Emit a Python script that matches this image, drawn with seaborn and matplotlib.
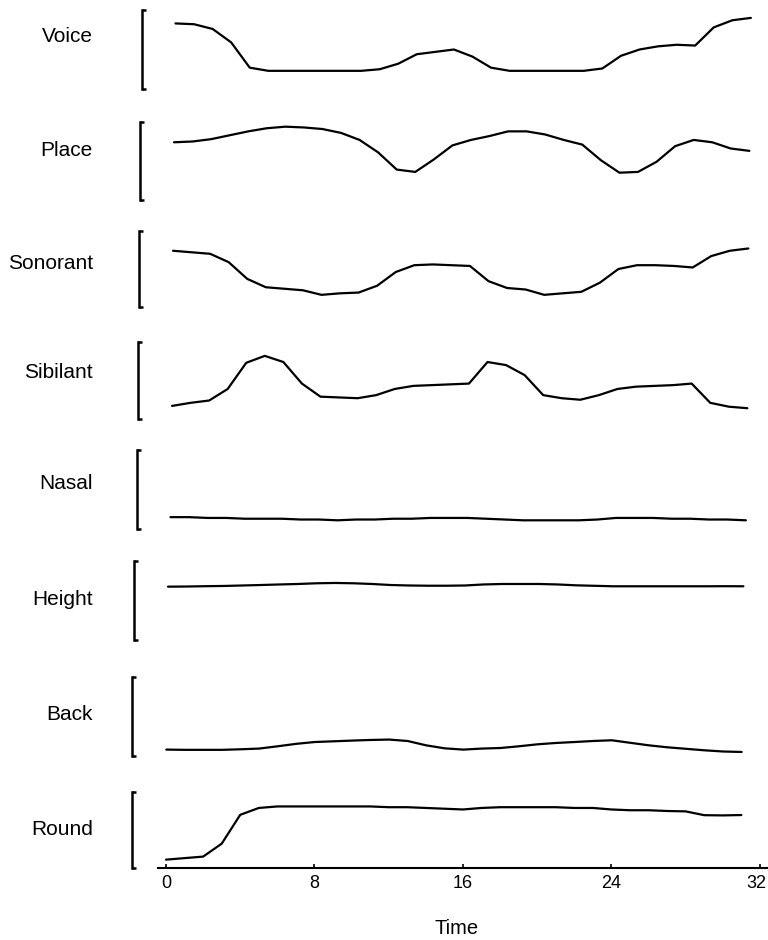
import matplotlib
matplotlib.use("Agg")
import matplotlib.pyplot as plt
import matplotlib.transforms as mtransforms
import seaborn as sns
import numpy as np

# ---------------- data ----------------
time = list(range(32))

voice = [0.83, 0.82, 0.76, 0.59, 0.27, 0.23, 0.23, 0.23, 0.23, 0.23, 0.23, 0.25,
         0.32, 0.44, 0.47, 0.50, 0.41, 0.27, 0.23, 0.23, 0.23, 0.23, 0.23, 0.26,
         0.42, 0.50, 0.54, 0.56, 0.55, 0.78, 0.87, 0.90]
place = [0.74, 0.75, 0.78, 0.83, 0.88, 0.92, 0.94, 0.93, 0.91, 0.86, 0.77, 0.61,
         0.39, 0.36, 0.52, 0.70, 0.77, 0.82, 0.88, 0.88, 0.84, 0.77, 0.71, 0.51,
         0.35, 0.36, 0.49, 0.69, 0.77, 0.74, 0.66, 0.63]
sonorant = [0.74, 0.72, 0.70, 0.59, 0.37, 0.26, 0.24, 0.22, 0.16, 0.18, 0.19, 0.28,
            0.46, 0.55, 0.56, 0.55, 0.54, 0.34, 0.25, 0.23, 0.16, 0.18, 0.20, 0.32,
            0.50, 0.55, 0.55, 0.54, 0.52, 0.67, 0.74, 0.77]
sibilant = [0.17, 0.21, 0.24, 0.39, 0.73, 0.82, 0.74, 0.46, 0.29, 0.28, 0.27, 0.31,
            0.39, 0.43, 0.44, 0.45, 0.46, 0.74, 0.70, 0.57, 0.31, 0.27, 0.25, 0.31,
            0.39, 0.42, 0.43, 0.44, 0.46, 0.21, 0.16, 0.14]
nasal = [0.15, 0.15, 0.14, 0.14, 0.13, 0.13, 0.13, 0.12, 0.12, 0.11, 0.12, 0.12,
         0.13, 0.13, 0.14, 0.14, 0.14, 0.13, 0.12, 0.11, 0.11, 0.11, 0.11, 0.12,
         0.14, 0.14, 0.14, 0.13, 0.13, 0.12, 0.12, 0.11]
height = [0.675, 0.677, 0.681, 0.684, 0.690, 0.696, 0.703, 0.709, 0.718, 0.722, 0.718, 0.709,
          0.696, 0.690, 0.687, 0.687, 0.690, 0.703, 0.709, 0.709, 0.709, 0.703, 0.692, 0.686,
          0.680, 0.680, 0.680, 0.680, 0.680, 0.680, 0.681, 0.680]
back = [0.081, 0.078, 0.078, 0.078, 0.085, 0.094, 0.123, 0.154, 0.177, 0.186, 0.195, 0.203,
        0.208, 0.190, 0.135, 0.097, 0.081, 0.094, 0.101, 0.123, 0.148, 0.165, 0.177, 0.190,
        0.199, 0.167, 0.135, 0.110, 0.091, 0.072, 0.057, 0.051]
round_ = [0.11, 0.13, 0.15, 0.32, 0.70, 0.79, 0.81, 0.81, 0.81, 0.81, 0.81, 0.81,
          0.80, 0.80, 0.79, 0.78, 0.77, 0.79, 0.80, 0.80, 0.80, 0.80, 0.79, 0.79,
          0.77, 0.76, 0.76, 0.75, 0.745, 0.695, 0.692, 0.697]

names = ["Voice", "Place", "Sonorant", "Sibilant", "Nasal", "Height", "Back", "Round"]
series = [voice, place, sonorant, sibilant, nasal, height, back, round_]
x_ticks = [0, 8, 16, 24, 32]

# ---------------- layout (pixels) ----------------
W, H = 768, 940
tops = [10, 122, 231, 342, 450, 561, 677, 792]
bottoms = [89, 200, 307, 419, 529, 640, 756, 868]
lefts = [141.5, 140, 139, 138, 136.5, 134, 132.3, 132]
label_yfrac = [0.66, 0.64, 0.57, 0.60, 0.58, 0.51, 0.52, 0.51]
px_per_unit = 18.56
x0_px = 166 - 132  # distance from bracket to t=0
ax_w_px = 768 - 132
xmin = -x0_px / px_per_unit
xmax = xmin + ax_w_px / px_per_unit

sns.set_style("white")
plt.rcParams["font.family"] = ["Liberation Sans", "DejaVu Sans"]
plt.rcParams["text.color"] = "black"
plt.rcParams["xtick.color"] = "black"
plt.rcParams["ytick.color"] = "black"

fig = plt.figure(figsize=(W / 100, H / 100), dpi=100)

for i, (name, vals) in enumerate(zip(names, series)):
    top, bot, left = tops[i], bottoms[i], lefts[i]
    ax = fig.add_axes([left / W, 1 - bot / H, ax_w_px / W, (bot - top) / H])
    sns.lineplot(x=time, y=vals, ax=ax, color="black", linewidth=1.6)
    ax.set_xlim(xmin, xmax)
    ax.set_ylim(0, 1)
    ax.set_xlabel("")
    ax.set_ylabel("")
    for s in ["top", "right"]:
        ax.spines[s].set_visible(False)
    ax.spines["left"].set_linewidth(1.8)
    ax.spines["left"].set_color("black")
    ax.set_yticks([0, 1])
    ax.tick_params(axis="y", which="both", left=True, direction="in", length=2.8,
                   width=1.8, labelleft=False, color="black")
    ax.annotate(name, xy=(93 / W, label_yfrac[i]),
                xycoords=("figure fraction", "axes fraction"),
                ha="right", va="center", fontsize=15, color="black")
    if i < len(names) - 1:
        ax.spines["bottom"].set_visible(False)
        ax.set_xticks([])
    else:
        ax.spines["bottom"].set_linewidth(1.5)
        ax.spines["bottom"].set_color("black")
        ax.spines["bottom"].set_bounds(-0.43, xmax)
        ax.set_xticks(x_ticks)
        ax.set_xticklabels([str(v) for v in x_ticks], fontsize=13)
        ax.tick_params(axis="x", direction="in", length=3, width=1.2, pad=5,
                       color="black", bottom=True)
        last = ax.get_xticklabels()[-1]
        last.set_transform(last.get_transform() +
                           mtransforms.ScaledTranslation(-4 / 100, 0, fig.dpi_scale_trans))
    ax.patch.set_alpha(0)

fig.text(457 / W, 1 - 928 / H, "Time", ha="center", va="center", fontsize=14.5,
         color="black")

fig.savefig("out.png", dpi=100)
